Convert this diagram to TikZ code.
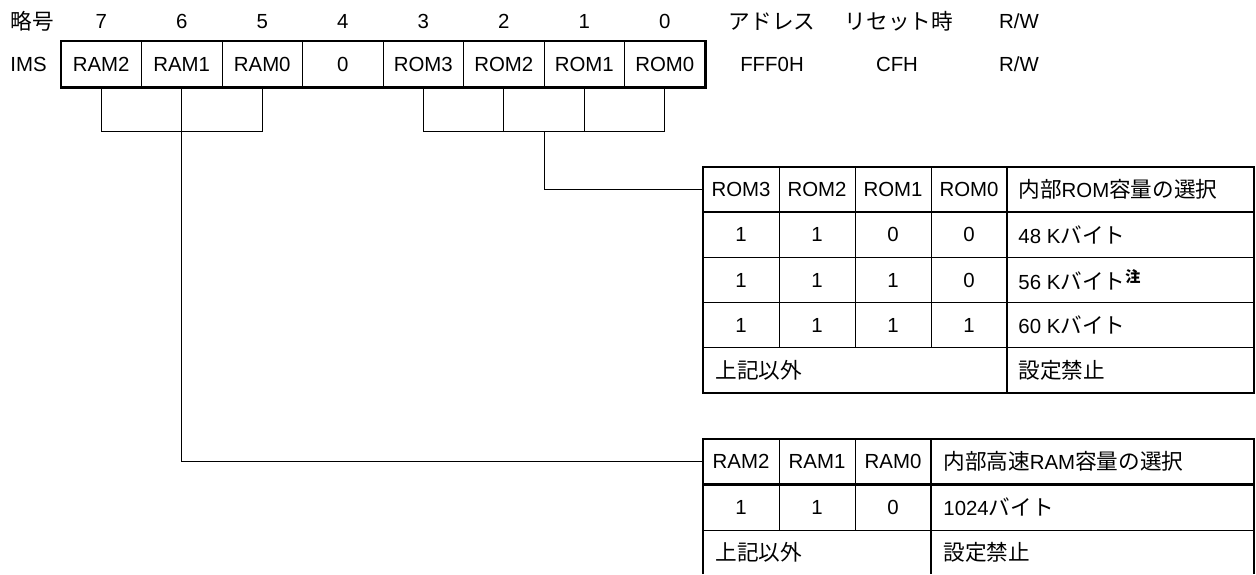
\documentclass[tikz,border=0pt]{standalone}
\usepackage{fontspec}
\setmainfont{Liberation Sans}
\newfontfamily\jpfont[Scale=1.06]{Noto Sans CJK JP}
\newcommand{\jp}[1]{{\jpfont #1}}
\usetikzlibrary{positioning}

\tikzset{
    bitbox/.style={minimum width=40.25pt, minimum height=23pt, inner sep=0pt},
    cellbox/.style={minimum width=38pt, minimum height=22.6pt, inner sep=0pt},
    desc/.style={anchor=west, inner sep=0pt},
    frame/.style={line width=1.1pt},
    grid/.style={line width=0.5pt},
    link/.style={line width=0.6pt},
}

\begin{document}
\begin{tikzpicture}[x=0.5pt, y=-0.5pt, font=\fontsize{10.2}{12}\selectfont]
    \useasboundingbox (0,0) rectangle (1256,574);

    % Register IMS with its bit numbers
    \node[desc] (sym) at (10,21.7) {\jp{略号}};
    \node[desc] (reg) at (10,64) {IMS};
    \foreach \lbl [count=\i from 0] in {RAM2,RAM1,RAM0,0,ROM3,ROM2,ROM1,ROM0} {
        \pgfmathtruncatemacro\bit{7-\i}
        \node[bitbox] (r\i) at (101.25+80.5*\i,64) {\lbl};
        \node (n\i) at (101.25+80.5*\i,21.7) {\bit};
    }
    \foreach \i in {0,...,6}
        \draw[grid] (r\i.north east) -- (r\i.south east);
    \draw[frame] (r0.north west) rectangle (r7.south east);

    % Address, reset value, R/W
    \node (adr) at (772,21.7) {\jp{アドレス}};
    \node (rst) at (899,21.7) {\jp{リセット時}};
    \node (rw) at (1019,21.7) {R/W};
    \node (adrv) at (772,64) {FFF0H};
    \node (rstv) at (897,64) {CFH};
    \node (rwv) at (1019,64) {R/W};

    % ROM table
    \draw[frame] (703,167) rectangle (1254,393);
    \draw[frame] (703,212.2) -- (1254,212.2);
    \draw[frame] (1007,167) -- (1007,393);
    \foreach \y in {257.4,302.6,347.8}
        \draw[grid] (703,\y) -- (1254,\y);
    \foreach \x in {779,855,931}
        \draw[grid] (\x,167) -- (\x,347.8);
    \foreach \lbl [count=\i from 0] in {ROM3,ROM2,ROM1,ROM0}
        \node[cellbox] (romh\i) at (741+76*\i,189.6) {\lbl};
    \node[desc] (romhd) at (1018,189.6) {\jp{内部}ROM\jp{容量の選択}};
    \foreach \a/\b/\c/\d [count=\j] in {1/1/0/0, 1/1/1/0, 1/1/1/1} {
        \node (rom\j a) at (741,189.6+45.2*\j) {\a};
        \node (rom\j b) at (817,189.6+45.2*\j) {\b};
        \node (rom\j c) at (893,189.6+45.2*\j) {\c};
        \node (rom\j d) at (969,189.6+45.2*\j) {\d};
    }
    \node[desc] (rom1e) at (1018,234.8) {48 K\jp{バイト}};
    \node[desc] (rom2e) at (1018,280) {56 K\jp{バイト}\textsuperscript{\jp{\bfseries 注}}};
    \node[desc] (rom3e) at (1018,325.2) {60 K\jp{バイト}};
    \node[desc] (rom4a) at (715,370.4) {\jp{上記以外}};
    \node[desc] (rom4e) at (1018,370.4) {\jp{設定禁止}};

    % RAM table
    \draw[frame] (703,574) -- (703,439) -- (1254,439) -- (1254,574);
    \draw[frame] (703,484.5) -- (1254,484.5);
    \draw[frame] (931,439) -- (931,574);
    \draw[grid] (703,530) -- (1254,530);
    \foreach \x in {779,855}
        \draw[grid] (\x,439) -- (\x,530);
    \foreach \lbl [count=\i from 0] in {RAM2,RAM1,RAM0}
        \node[cellbox] (ramh\i) at (741+76*\i,461.75) {\lbl};
    \node[desc] (ramhd) at (943,461.75) {\jp{内部高速}RAM\jp{容量の選択}};
    \node (ram1a) at (741,507.25) {1};
    \node (ram1b) at (817,507.25) {1};
    \node (ram1c) at (893,507.25) {0};
    \node[desc] (ram1e) at (943,507.25) {1024\jp{バイト}};
    \node[desc] (ram2a) at (715,552.75) {\jp{上記以外}};
    \node[desc] (ram2e) at (943,552.75) {\jp{設定禁止}};

    % Brackets from the register
    \draw[grid] (r0.south) -- ++(0,44) -| (r2.south);
    \draw[grid] (r4.south) -- ++(0,44) -| (r7.south);
    \draw[grid] (r5.south) -- ++(0,44);
    \draw[grid] (r6.south) -- ++(0,44);

    % Connectors to the tables
    \draw[link] (r5.south east) ++(0,44) |- (romh0.west);
    \draw[link] (r1.south) |- (ramh0.west);
\end{tikzpicture}
\end{document}
